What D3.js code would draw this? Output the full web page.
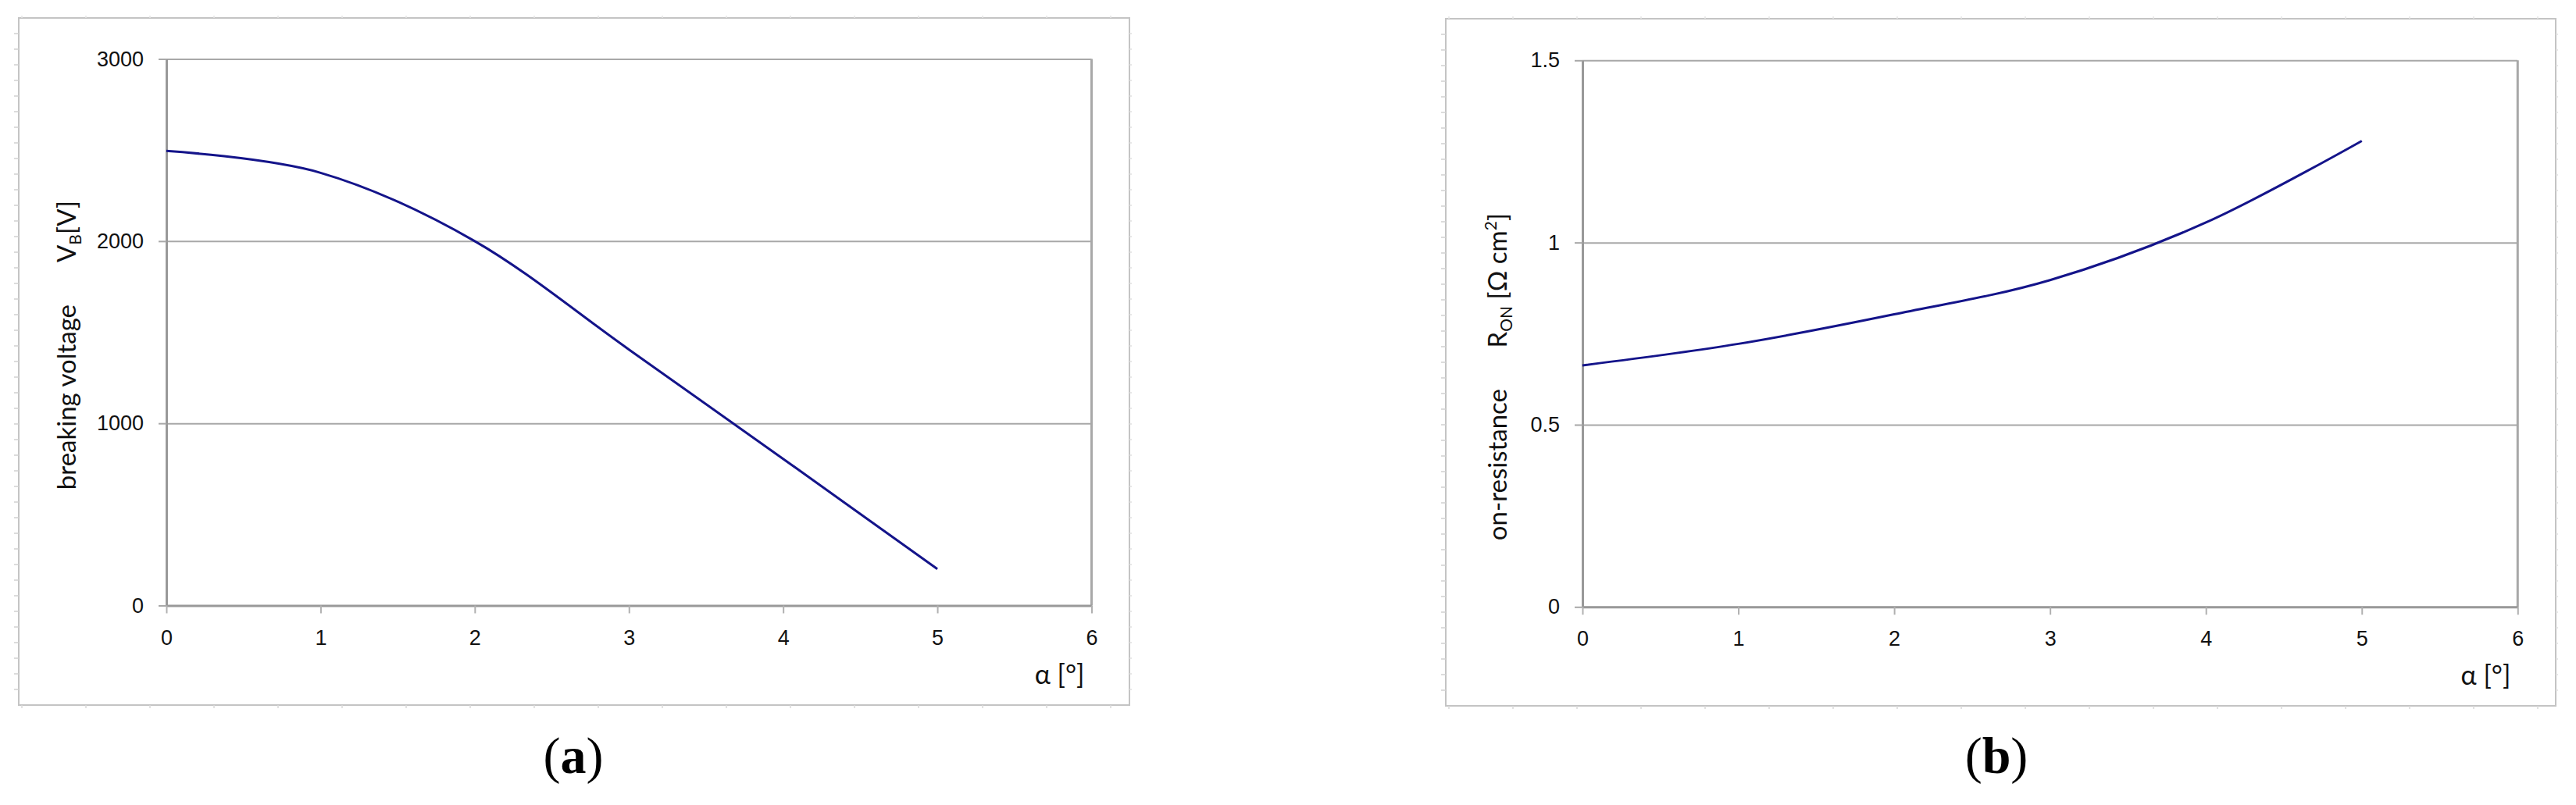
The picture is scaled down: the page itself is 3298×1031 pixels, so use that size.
<!DOCTYPE html>
<html>
<head>
<meta charset="utf-8">
<script src="https://cdn.jsdelivr.net/npm/d3@7"></script>
<style>
  html, body { margin: 0; padding: 0; background: #fff; }
  svg { display: block; font-family: Lato, "Open Sans", sans-serif; }
  .tick text { font-size: 27px; fill: #111; }
</style>
</head>
<body>
<svg id="fig" width="3298" height="1031"></svg>
<script>
// values (x = taper angle alpha in degrees)
const alphaDeg = [0, 1, 2, 3, 4, 5];
const breakdownVoltage = [2495, 2375, 2000, 1405, 805, 200];
const onResistance = [0.663, 0.722, 0.803, 0.897, 1.055, 1.279];

const xTicks = [0, 1, 2, 3, 4, 5, 6];
const vbTicks = [0, 1000, 2000, 3000];
const ronTicks = [0, 0.5, 1, 1.5];

const svg = d3.select('#fig');

function drawPanel(cfg) {
  const g = svg.append('g');
  const { frame, plot } = cfg;

  // outer chart frame with its faint ruler ticks
  g.append('rect')
    .attr('x', frame.x).attr('y', frame.y)
    .attr('width', frame.w).attr('height', frame.h)
    .attr('fill', 'none').attr('stroke', '#c4c4c4').attr('stroke-width', 2);

  const sideTicks = d3.range(frame.y + 20, frame.y + frame.h, 20);
  const edgeTicks = d3.range(frame.x + 4, frame.x + frame.w, 82);
  g.append('g').selectAll('line').data(sideTicks).join('line')
    .attr('x1', frame.x - 6).attr('x2', frame.x).attr('y1', d => d).attr('y2', d => d)
    .attr('stroke', '#d0d0d0').attr('stroke-width', 1.5);
  g.append('g').selectAll('line').data(sideTicks).join('line')
    .attr('x1', frame.x + frame.w).attr('x2', frame.x + frame.w + 3).attr('y1', d => d).attr('y2', d => d)
    .attr('stroke', '#e0e0e0').attr('stroke-width', 1.5);
  g.append('g').selectAll('line').data(edgeTicks).join('line')
    .attr('x1', d => d).attr('x2', d => d).attr('y1', frame.y + frame.h).attr('y2', frame.y + frame.h + 4)
    .attr('stroke', '#d8d8d8').attr('stroke-width', 1.5);
  g.append('g').selectAll('line').data(edgeTicks).join('line')
    .attr('x1', d => d).attr('x2', d => d).attr('y1', frame.y - 3).attr('y2', frame.y)
    .attr('stroke', '#e4e4e4').attr('stroke-width', 1.5);

  const x = d3.scaleLinear().domain([0, 6]).range([plot.left, plot.right]);
  const y = d3.scaleLinear().domain(cfg.yDomain).range([plot.bottom, plot.top]);
  const innerW = plot.right - plot.left;

  // horizontal gridlines
  g.append('g')
    .attr('transform', `translate(${plot.left},0)`)
    .call(d3.axisLeft(y).tickValues(cfg.yTicks).tickSize(-innerW).tickFormat(''))
    .call(a => a.select('.domain').remove())
    .call(a => a.selectAll('line').attr('stroke', '#a8a8a8').attr('stroke-width', 2));

  // right border of plot area
  g.append('line')
    .attr('x1', plot.right).attr('x2', plot.right)
    .attr('y1', plot.top).attr('y2', plot.bottom)
    .attr('stroke', '#a8a8a8').attr('stroke-width', 3);

  // y axis
  g.append('g')
    .attr('transform', `translate(${plot.left},0)`)
    .call(d3.axisLeft(y).tickValues(cfg.yTicks).tickFormat(d => String(d))
      .tickSize(10).tickSizeOuter(0).tickPadding(19))
    .call(a => a.select('.domain').attr('stroke', '#999').attr('stroke-width', 3))
    .call(a => a.selectAll('line').attr('stroke', '#a8a8a8').attr('stroke-width', 2));

  // x axis
  g.append('g')
    .attr('transform', `translate(0,${plot.bottom})`)
    .call(d3.axisBottom(x).tickValues(xTicks).tickFormat(d => String(d))
      .tickSize(10).tickSizeOuter(0).tickPadding(21))
    .call(a => a.select('.domain').attr('stroke', '#999').attr('stroke-width', 3))
    .call(a => a.selectAll('line').attr('stroke', '#b0b0b0').attr('stroke-width', 2));

  // smoothed curve through the read points
  const pts = alphaDeg.map((a, i) => [a, cfg.values[i]]);
  g.append('path')
    .datum(pts)
    .attr('fill', 'none')
    .attr('stroke', '#14148a')
    .attr('stroke-width', 3)
    .attr('d', d3.line().x(d => x(d[0])).y(d => y(d[1])).curve(d3.curveCardinal.tension(0)));

  // x axis title
  g.append('text')
    .attr('x', x(6) - 9).attr('y', plot.bottom + 100)
    .attr('text-anchor', 'end')
    .attr('font-size', 34).attr('fill', '#111')
    .text('α [°]');

  // y axis title: name, then symbol with units
  const tx = cfg.titleX;
  g.append('text')
    .attr('transform', `translate(${tx},${cfg.nameEnd}) rotate(-90)`)
    .attr('text-anchor', 'end')
    .attr('font-size', 33).attr('fill', '#111')
    .text(cfg.name);

  const sym = g.append('text')
    .attr('transform', `translate(${tx},${cfg.symEnd}) rotate(-90)`)
    .attr('text-anchor', 'end')
    .attr('font-size', 33).attr('fill', '#111');
  cfg.symbol(sym);

  // panel caption
  g.append('text')
    .attr('x', cfg.captionX).attr('y', 990)
    .attr('text-anchor', 'middle')
    .attr('font-family', '"Liberation Serif", "Times New Roman", serif')
    .attr('font-size', 66).attr('fill', '#000')
    .call(t => {
      t.append('tspan').text('(');
      t.append('tspan').attr('font-weight', 'bold').text(cfg.caption);
      t.append('tspan').text(')');
    });
}

drawPanel({
  frame: { x: 24, y: 23, w: 1422, h: 880 },
  plot: { left: 213, right: 1397.5, top: 75.5, bottom: 775.5 },
  yDomain: [0, 3000],
  yTicks: vbTicks,
  values: breakdownVoltage,
  titleX: 97,
  nameEnd: 390,
  symEnd: 257,
  name: 'breaking voltage',
  symbol: t => {
    t.append('tspan').text('V');
    t.append('tspan').attr('font-size', 21).attr('dy', 7).text('B');
    t.append('tspan').attr('dy', -7).text('[V]');
  },
  caption: 'a',
  captionX: 734
});

drawPanel({
  frame: { x: 1851, y: 24, w: 1421, h: 880 },
  plot: { left: 2026, right: 3223.3, top: 77.3, bottom: 777.3 },
  yDomain: [0, 1.5],
  yTicks: ronTicks,
  values: onResistance,
  titleX: 1929,
  nameEnd: 498,
  symEnd: 273,
  name: 'on-resistance',
  symbol: t => {
    t.append('tspan').text('R');
    t.append('tspan').attr('font-size', 21).attr('dy', 7).text('ON');
    t.append('tspan').attr('dy', -7).text(' [Ω cm');
    t.append('tspan').attr('font-size', 21).attr('dy', -13).text('2');
    t.append('tspan').attr('dy', 13).text(']');
  },
  caption: 'b',
  captionX: 2556
});
</script>
</body>
</html>
